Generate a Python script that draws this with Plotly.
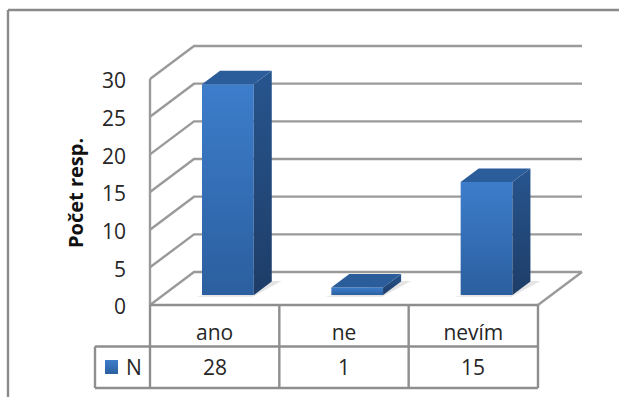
import plotly.graph_objects as go

# Survey answers shown as oblique 3D columns with a data table beneath them
CATEGORIES = ["ano", "ne", "nevím"]
SERIES_NAME = "N"
VALUES = [28, 1, 15]
TICKS = [0, 5, 10, 15, 20, 25, 30]
AXIS_TITLE = "Počet resp."

WIDTH, HEIGHT = 619, 397
ORIGIN_X, ORIGIN_Y = 150, 305      # page position of category 0, value 0
CAT_PX, VAL_PX = 129.33, 7.533     # pixels per category and per value unit
DEPTH_X, DEPTH_Y = 44 / CAT_PX, 33 / VAL_PX  # oblique shift of the full chart depth
BAR_LEFT, BAR_WIDTH = 0.3, 0.4
BAR_NEAR, BAR_FAR = 0.3, 0.71

GRID = "#9a9a9a"
TABLE = "#8e8e8e"
FRAME = "#8a8a8a"
TEXT = "#262626"
FONT = "Open Sans"


def px_x(px):
    return (px - ORIGIN_X) / CAT_PX


def px_y(px):
    return (ORIGIN_Y - px) / VAL_PX


def project(x, v, depth):
    return x + depth * DEPTH_X, v + depth * DEPTH_Y


fig = go.Figure()


def polyline(xs, ys, color, width=2.4):
    fig.add_trace(go.Scatter(x=xs, y=ys, mode="lines", hoverinfo="skip", showlegend=False,
                             line=dict(color=color, width=width)))


def face(points, colors=None, solid=None):
    xs = [p[0] for p in points] + [points[0][0]]
    ys = [p[1] for p in points] + [points[0][1]]
    style = dict(fillcolor=solid) if solid else dict(
        fillgradient=dict(type="vertical", colorscale=[[0, colors[1]], [1, colors[0]]],
                          start=min(ys), stop=max(ys)))
    fig.add_trace(go.Scatter(x=xs, y=ys, mode="lines", fill="toself", hoverinfo="skip",
                             showlegend=False, line=dict(width=0), **style))


# Back wall, side wall and floor
n = len(CATEGORIES)
for t in TICKS:
    bx, by = project(0, t, 1)
    ex, ey = project(n, t, 1)
    polyline([0, bx, ex], [t, by, ey], GRID)
polyline([0, 0], [0, max(TICKS)], GRID)
polyline([project(n, 0, 1)[0], n], [project(n, 0, 1)[1], 0], GRID)

# Columns
for i, v in enumerate(VALUES):
    x0, x1 = i + BAR_LEFT, i + BAR_LEFT + BAR_WIDTH
    face([project(x0 - 0.03, 0, BAR_NEAR - 0.05), project(x1 + 0.01, 0, BAR_NEAR - 0.05),
          project(x1 + 0.07, 0, BAR_FAR + 0.02), project(x1, 0, BAR_FAR + 0.02)],
         solid="rgba(130,130,130,0.22)")
    face([project(x0, 0, BAR_NEAR), project(x1, 0, BAR_NEAR),
          project(x1, v, BAR_NEAR), project(x0, v, BAR_NEAR)],
         colors=("#3d7dcb", "#2b5f9f"))
    face([project(x1, 0, BAR_NEAR), project(x1, 0, BAR_FAR),
          project(x1, v, BAR_FAR), project(x1, v, BAR_NEAR)],
         colors=("#27558e", "#1e3d68"))
    face([project(x0, v, BAR_NEAR), project(x1, v, BAR_NEAR),
          project(x1, v, BAR_FAR), project(x0, v, BAR_FAR)],
         solid="#2b5d9b")

# Data table grid
row2, row3 = px_y(346.5), px_y(388)
key_left = px_x(95)
polyline([0, n], [0, 0], TABLE)
polyline([key_left, n], [row2, row2], TABLE)
polyline([key_left, n], [row3, row3], TABLE)
polyline([key_left, key_left], [row2, row3], TABLE)
for c in range(n + 1):
    polyline([c, c], [0, row3], TABLE)

# Legend key in the table
face([(px_x(105), px_y(374)), (px_x(118), px_y(374)), (px_x(118), px_y(360)), (px_x(105), px_y(360))],
     colors=("#3d7dcb", "#2b5f9f"))

annotations = [
    dict(x=px_x(75), y=px_y(193), text=f"<b>{AXIS_TITLE}</b>", textangle=-90, showarrow=False,
         font=dict(size=20, color="#111111", family=FONT)),
    dict(x=px_x(134), y=px_y(367), text=SERIES_NAME, showarrow=False,
         font=dict(size=21, color=TEXT, family=FONT)),
]
for i, v in enumerate(VALUES):
    annotations.append(dict(x=i + 0.5, y=px_y(367), text=str(v), showarrow=False,
                            font=dict(size=21, color=TEXT, family=FONT)))

# Chart frame: open at the right and bottom page edges
frame = [
    dict(type="line", xref="paper", yref="paper", x0=8 / WIDTH, x1=1, y0=1 - 10 / HEIGHT, y1=1 - 10 / HEIGHT,
         line=dict(color=FRAME, width=2.4)),
    dict(type="line", xref="paper", yref="paper", x0=8 / WIDTH, x1=8 / WIDTH, y0=0, y1=1 - 10 / HEIGHT,
         line=dict(color=FRAME, width=2.4)),
]

fig.update_layout(
    width=WIDTH, height=HEIGHT, margin=dict(l=0, r=0, t=0, b=0),
    paper_bgcolor="white", plot_bgcolor="white", showlegend=False,
    font=dict(family=FONT, color=TEXT, size=21),
    annotations=annotations, shapes=frame,
    xaxis=dict(range=[px_x(0), px_x(WIDTH)], showgrid=False, zeroline=False, showline=False,
               tickmode="array", tickvals=[i + 0.5 for i in range(n)], ticktext=CATEGORIES,
               anchor="free", position=1 - ORIGIN_Y / HEIGHT, ticks="", ticklabelstandoff=13,
               tickfont=dict(size=21, color=TEXT, family=FONT)),
    yaxis=dict(range=[px_y(HEIGHT), px_y(0)], showgrid=False, zeroline=False, showline=False,
               tickmode="array", tickvals=TICKS, anchor="free", position=ORIGIN_X / WIDTH,
               ticks="", ticklabelstandoff=24, ticklabelshift=2,
               tickfont=dict(size=21, color=TEXT, family=FONT)),
)

fig.write_html("out.html", config=dict(displayModeBar=False))
